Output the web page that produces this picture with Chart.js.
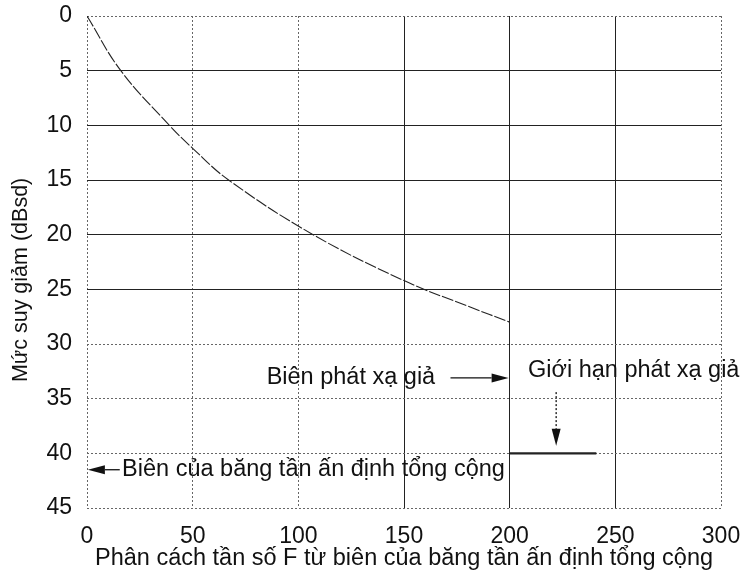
<!DOCTYPE html>
<html>
<head>
<meta charset="utf-8">
<script src="https://cdn.jsdelivr.net/npm/chart.js@4"></script>
<style>
  body { margin: 0; background: #fff; }
</style>
</head>
<body>
<canvas id="chart" width="745" height="573"></canvas>
<script>
// values
const separation = [0, 16, 39, 50, 67, 107, 150, 181, 200];
const attenuation = [0, 5, 10, 12.1, 15, 20, 24.2, 26.6, 28];
const limitX = [200, 241];
const limitY = [40, 40];
const dottedX = [0, 50, 100, 300];
const dottedY = [0, 30, 35, 40, 45];

const FONT = '"Liberation Sans", Arial, sans-serif';
const INK = '#111';

// annotation anchors, in data units
const notes = {
  edgeSpur: { text: 'Biên phát xạ giả', x: 85, y: 33.1, arrowFrom: 172, arrowTo: 199.5 },
  limit: { text: 'Giới hạn phát xạ giả', x: 208.7, y: 32.4 },
  limitArrow: { x: 222, from: 34.4, to: 39.3 },
  bandEdge: { text: 'Biên của băng tần ấn định tổng cộng', x: 16.6, y: 41.5, arrowFrom: 15.5, arrowTo: 0.4 }
};

function arrow(ctx, x1, y1, x2, y2, dash) {
  const a = Math.atan2(y2 - y1, x2 - x1);
  const len = 17, half = 4.5;
  const bx = x2 - len * Math.cos(a), by = y2 - len * Math.sin(a);
  ctx.save();
  ctx.lineWidth = 1.3;
  ctx.setLineDash(dash || []);
  ctx.beginPath();
  ctx.moveTo(x1, y1);
  ctx.lineTo(bx, by);
  ctx.stroke();
  ctx.setLineDash([]);
  ctx.beginPath();
  ctx.moveTo(x2, y2);
  ctx.lineTo(bx + half * Math.sin(a), by - half * Math.cos(a));
  ctx.lineTo(bx - half * Math.sin(a), by + half * Math.cos(a));
  ctx.closePath();
  ctx.fill();
  ctx.restore();
}

const notesPlugin = {
  id: 'notes',
  afterDatasetsDraw(chart) {
    const { ctx, scales: { x, y } } = chart;
    ctx.save();
    ctx.fillStyle = INK;
    ctx.strokeStyle = INK;
    ctx.font = '23.5px ' + FONT;
    ctx.textBaseline = 'middle';
    ctx.textAlign = 'left';

    const e = notes.edgeSpur;
    ctx.fillText(e.text, x.getPixelForValue(e.x), y.getPixelForValue(e.y));
    arrow(ctx, x.getPixelForValue(e.arrowFrom), y.getPixelForValue(e.y),
      x.getPixelForValue(e.arrowTo), y.getPixelForValue(e.y));

    const l = notes.limit;
    ctx.fillText(l.text, x.getPixelForValue(l.x), y.getPixelForValue(l.y));
    const la = notes.limitArrow;
    arrow(ctx, x.getPixelForValue(la.x), y.getPixelForValue(la.from),
      x.getPixelForValue(la.x), y.getPixelForValue(la.to), [2, 2]);

    const b = notes.bandEdge;
    ctx.fillText(b.text, x.getPixelForValue(b.x), y.getPixelForValue(b.y));
    arrow(ctx, x.getPixelForValue(b.arrowFrom), y.getPixelForValue(b.y),
      x.getPixelForValue(b.arrowTo), y.getPixelForValue(b.y));
    ctx.restore();
  }
};

new Chart(document.getElementById('chart'), {
  type: 'scatter',
  data: {
    datasets: [
      {
        data: separation.map((v, i) => ({ x: v, y: attenuation[i] })),
        showLine: true,
        borderColor: '#222',
        borderWidth: 1.1,
        borderDash: [12, 2],
        pointRadius: 0,
        tension: 0.4
      },
      {
        data: limitX.map((v, i) => ({ x: v, y: limitY[i] })),
        showLine: true,
        borderColor: '#222',
        borderWidth: 2.2,
        pointRadius: 0
      }
    ]
  },
  options: {
    responsive: false,
    animation: false,
    layout: { padding: { top: 16, right: 24, left: 0, bottom: 0 } },
    plugins: { legend: { display: false }, tooltip: { enabled: false } },
    scales: {
      x: {
        type: 'linear',
        min: 0,
        max: 300,
        afterFit: s => { s.height = 65; s.paddingLeft = 0; s.paddingRight = 0; },
        ticks: { stepSize: 50, padding: 15, color: INK, font: { family: FONT, size: 23 } },
        grid: {
          drawTicks: false,
          color: c => c.tick && dottedX.includes(c.tick.value) ? '#666' : '#222'
        },
        border: {
          display: false,
          dash: c => c.tick && dottedX.includes(c.tick.value) ? [2, 2] : []
        },
        title: {
          display: true,
          text: 'Phân cách tần số F từ biên của băng tần ấn định tổng cộng',
          color: INK,
          font: { family: FONT, size: 23.5 },
          padding: { top: 0, bottom: 0 }
        }
      },
      y: {
        type: 'linear',
        reverse: true,
        min: 0,
        max: 45,
        afterFit: s => { s.width = 87; s.paddingTop = 0; s.paddingBottom = 0; },
        ticks: { stepSize: 5, padding: 15, color: INK, font: { family: FONT, size: 23 } },
        grid: {
          drawTicks: false,
          color: c => c.tick && dottedY.includes(c.tick.value) ? '#666' : '#222'
        },
        border: {
          display: false,
          dash: c => c.tick && dottedY.includes(c.tick.value) ? [2, 2] : []
        },
        title: {
          display: true,
          text: 'Mức suy giảm (dBsd)\u00a0\u00a0\u00a0\u00a0\u00a0\u00a0',
          color: INK,
          font: { family: FONT, size: 21.5 },
          padding: { top: 8, bottom: 0 }
        }
      }
    }
  },
  plugins: [notesPlugin]
});
</script>
</body>
</html>
